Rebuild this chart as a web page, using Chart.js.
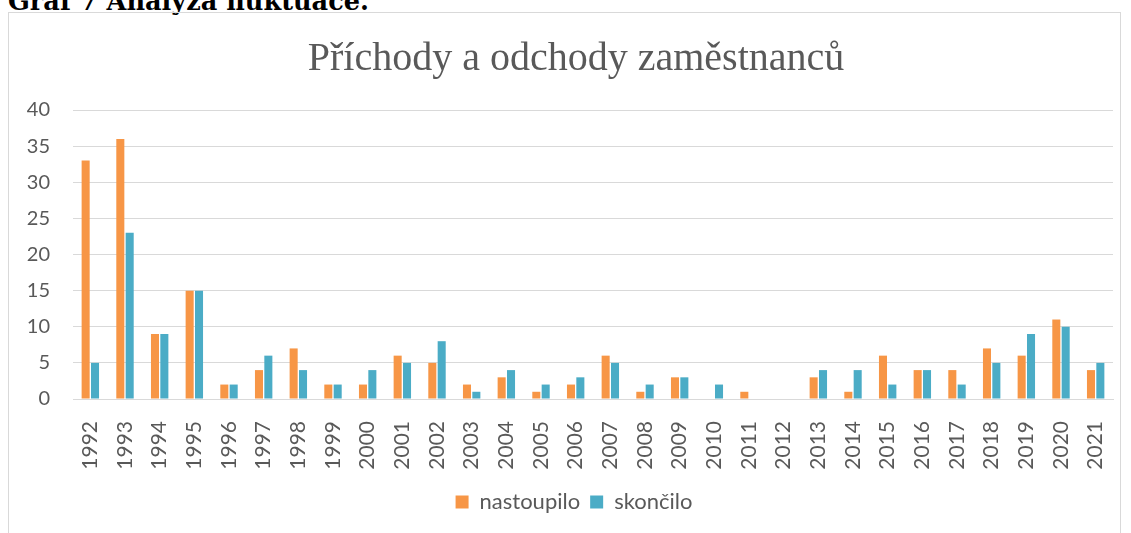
<!DOCTYPE html>
<html>
<head>
<meta charset="utf-8">
<script src="https://cdn.jsdelivr.net/npm/chart.js@4.4.1/dist/chart.umd.min.js"></script>
<style>
  html, body { margin: 0; padding: 0; background: #fff; overflow: hidden; }
  body { width: 1131px; height: 533px; position: relative; }
  #caption {
    position: absolute; left: 8px; top: -11px;
    font: bold 25.6px/25.6px "DejaVu Serif", serif; color: #000; white-space: nowrap;
  }
  #frame {
    position: absolute; left: 8px; top: 12px; width: 1111px; height: 540px;
    border: 1px solid #d9d9d9;
  }
  #wrap { position: absolute; left: 0; top: 0; width: 1111px; height: 520px; }
</style>
</head>
<body>
<div id="caption">Graf 7 Analýza fluktuace.</div>
<div id="frame"><div id="wrap"><canvas id="chart"></canvas></div></div>
<script>
// years on the x axis
const years = ['1992','1993','1994','1995','1996','1997','1998','1999','2000','2001',
  '2002','2003','2004','2005','2006','2007','2008','2009','2010','2011',
  '2012','2013','2014','2015','2016','2017','2018','2019','2020','2021'];

// employees who joined / left each year
const nastoupilo = [33, 36, 9, 15, 2, 4, 7, 2, 2, 6, 5, 2, 3, 1, 2, 6, 1, 3, 0, 1, 0, 3, 1, 6, 4, 4, 7, 6, 11, 4];
const skoncilo = [5, 23, 9, 15, 2, 6, 4, 2, 4, 5, 8, 1, 4, 2, 3, 5, 2, 3, 2, 0, 0, 4, 4, 2, 4, 2, 5, 9, 10, 5];

const textGray = '#595959';
const gridGray = '#d9d9d9';

// title and legend sit a bit right of the canvas centre, like in Excel
const shiftBlocks = {
  id: 'shiftBlocks',
  afterLayout(chart) {
    const t = chart.titleBlock;
    if (t) { t.left += 15; t.right += 15; }
    const l = chart.legend;
    if (l) { l.left += 13; l.right += 13; }
  }
};

new Chart(document.getElementById('chart'), {
  type: 'bar',
  data: {
    labels: years,
    datasets: [
      { label: 'nastoupilo', data: nastoupilo, backgroundColor: '#f79646',
        categoryPercentage: 0.54, barPercentage: 0.86 },
      { label: 'skončilo', data: skoncilo, backgroundColor: '#4bacc6',
        categoryPercentage: 0.54, barPercentage: 0.86 }
    ]
  },
  plugins: [shiftBlocks],
  options: {
    responsive: true,
    maintainAspectRatio: false,
    animation: false,
    layout: { padding: { left: 0, right: 7, top: 0, bottom: 10 } },
    plugins: {
      title: {
        display: true,
        text: 'Příchody a odchody zaměstnanců',
        color: textGray,
        font: { family: '"Liberation Serif", serif', size: 40, weight: 'normal' },
        padding: { top: 22, bottom: 27 }
      },
      legend: {
        position: 'bottom',
        labels: {
          color: textGray,
          font: { family: 'Lato', size: 22 },
          boxWidth: 13, boxHeight: 13,
          padding: 10
        }
      },
      tooltip: { enabled: false }
    },
    scales: {
      x: {
        grid: { display: false, drawTicks: false },
        border: { color: gridGray, width: 1 },
        ticks: { color: textGray, font: { family: 'Lato', size: 21 },
                 minRotation: 90, maxRotation: 90, padding: 22, autoSkip: false },
        afterFit: (s) => { s.height = 82; s.paddingLeft = 0; s.paddingRight = 0; }
      },
      y: {
        min: 0, max: 40,
        grid: { color: gridGray, drawTicks: false },
        border: { display: false },
        ticks: { stepSize: 5, color: textGray, font: { family: 'Lato', size: 20 }, padding: 23 },
        afterFit: (s) => { s.width = 64; }
      }
    }
  }
});
</script>
</body>
</html>
